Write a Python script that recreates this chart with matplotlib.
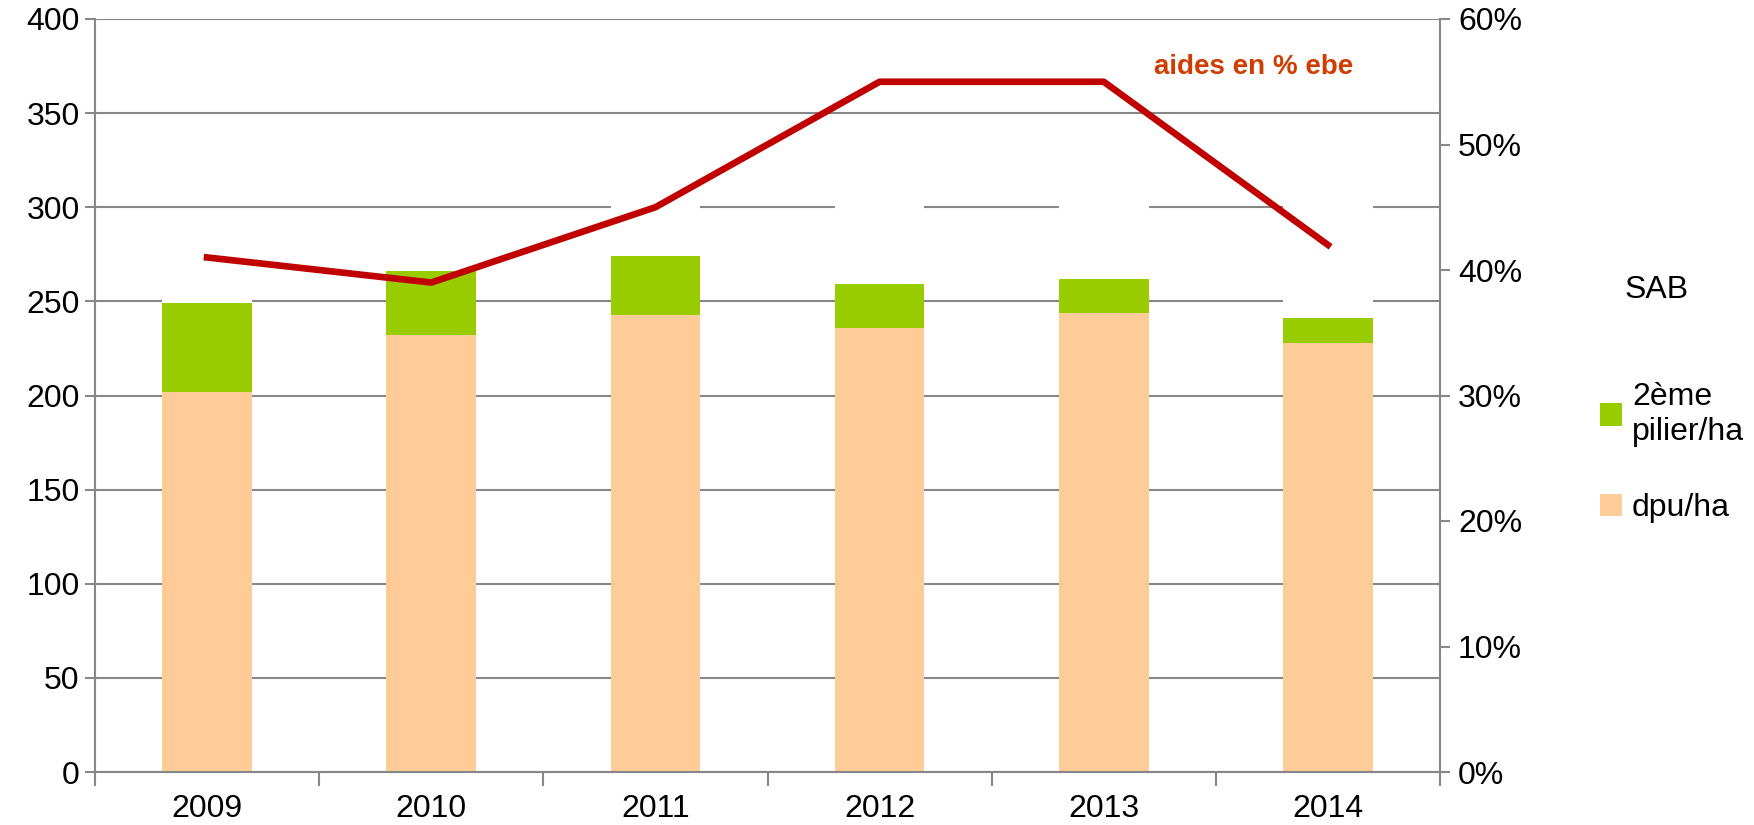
import matplotlib.pyplot as plt
from matplotlib.ticker import FuncFormatter, MultipleLocator
import numpy as np

plt.rcParams['font.family'] = ['Liberation Sans', 'DejaVu Sans']

years = ['2009', '2010', '2011', '2012', '2013', '2014']
dpu_ha = [202, 232, 243, 236, 244, 228]
pilier2_ha = [47, 34, 31, 23, 18, 13]
# white series stacked on top in the source chart (hides bits of the gridlines)
hidden = [27, 20, 36, 55, 51, 75]
aides_pct = [41, 39, 45, 55, 55, 42]

grey = '#878787'
fs = 23

fig = plt.figure(figsize=(17.54, 8.25), dpi=100)
ax = fig.add_axes([95 / 1754, 1 - 772 / 825, (1440 - 95) / 1754, (772 - 19) / 825])

x = np.arange(len(years))
w = 0.4
ax.bar(x, dpu_ha, w, color='#FFCC99', label='dpu/ha', zorder=2)
ax.bar(x, pilier2_ha, w, bottom=dpu_ha, color='#99CC00', label='2ème\npilier/ha', zorder=2)
ax.bar(x, hidden, w, bottom=np.add(dpu_ha, pilier2_ha), color='white', zorder=2)

ax.set_ylim(0, 400)
ax.set_xlim(-0.5, len(years) - 0.5)
ax.yaxis.set_major_locator(MultipleLocator(50))
ax.grid(axis='y', color=grey, linewidth=1.5, zorder=0)
ax.set_axisbelow(True)
ax.set_xticks(np.arange(-0.5, len(years), 1.0))
ax.set_xticklabels([])
ax.set_xticks(x, minor=True)
ax.set_xticklabels(years, minor=True)
ax.tick_params(axis='x', which='major', length=10, width=1.5, color=grey)
ax.tick_params(axis='x', which='minor', length=0, labelsize=fs, pad=16)
ax.tick_params(axis='y', length=7, width=1.5, color=grey, labelsize=fs, pad=4)
for s in ['left', 'bottom', 'right']:
    ax.spines[s].set_color(grey)
    ax.spines[s].set_linewidth(1.5)
ax.spines['top'].set_visible(False)

ax2 = ax.twinx()
ax2.plot(x, aides_pct, color='#C00000', linewidth=4.8, zorder=5)
ax2.set_ylim(0, 60)
ax2.yaxis.set_major_locator(MultipleLocator(10))
ax2.yaxis.set_major_formatter(FuncFormatter(lambda v, p: f'{v:.0f}%'))
ax2.tick_params(axis='y', length=7, width=1.5, color=grey, labelsize=fs, pad=6)
for s in ['left', 'bottom', 'right', 'top']:
    ax2.spines[s].set_visible(False)
ax2.text(4.67, 56.2, 'aides en % ebe', color='#D13C00', fontsize=20,
         fontweight='bold', ha='center', va='center')

# legend title sits over the labels, not the colour keys
fig.text(1625 / 1754, 1 - 290 / 825, 'SAB', fontsize=fs, ha='left', va='center')
h, l = ax.get_legend_handles_labels()
leg = fig.legend([h[1], h[0]], [l[1], l[0]], loc='upper left',
                 bbox_to_anchor=(1584 / 1754, 1 - 366 / 825), frameon=False,
                 fontsize=fs, handlelength=0.7, handleheight=0.7,
                 handletextpad=0.3, labelspacing=1.45, borderpad=0)

fig.savefig('out.png', dpi=100)
